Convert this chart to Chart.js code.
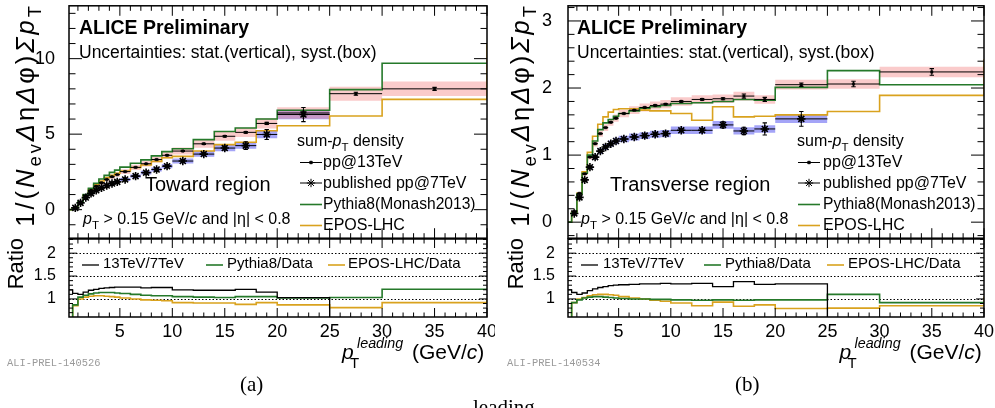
<!DOCTYPE html>
<html>
<head>
<meta charset="utf-8">
<script src="https://cdn.jsdelivr.net/npm/chart.js@4.4.1/dist/chart.umd.min.js"></script>
<style>
  html, body { margin: 0; padding: 0; background: #fff; }
  #page { position: relative; width: 995px; height: 408px; overflow: hidden; font-family: "Liberation Sans", Arial, sans-serif; color: #000; }
  canvas { position: absolute; z-index: 1; }
  .t { position: absolute; white-space: nowrap; line-height: 1; z-index: 2; }
  .sub { font-size: 72%; position: relative; top: 0.4em; }
  .rot { transform-origin: 0 0; transform: rotate(-90deg) translateX(-100%); }
  .ytitle { font-size: 25.5px; letter-spacing: 3px; }
  .mono { font-family: "Liberation Mono", "Courier New", monospace; color: #9a9a9a; font-size: 10.4px; }
  .serif { font-family: "Liberation Serif", "Times New Roman", serif; }
</style>
</head>
<body>
<div id="page">
  <!-- panel (a) -->
  <div class="t rot ytitle" style="left:13.4px;top:3px">1/(<i>N</i><span class="sub">ev</span><i>Δ</i>η<i>Δ</i>φ)<i>Σp</i><span class="sub">T</span></div>
  <div class="t rot" style="left:5px;top:238px;font-size:22px">Ratio</div>
  <div class="t" style="left:79px;top:17.5px;font-size:19.5px;font-weight:bold">ALICE Preliminary</div>
  <div class="t" style="left:79px;top:44.4px;font-size:17.5px">Uncertainties: stat.(vertical), syst.(box)</div>
  <div class="t" style="left:145px;top:174px;font-size:20px">Toward region</div>
  <div class="t" style="left:83px;top:211px;font-size:16px"><i>p</i><span class="sub">T</span> &gt; 0.15 GeV/<i>c</i> and |η| &lt; 0.8</div>
  <div class="t" style="left:297px;top:133px;font-size:16px">sum-<i>p</i><span class="sub">T</span> density</div>
  <div class="t" style="left:323px;top:154px;font-size:16px">pp@13TeV</div>
  <div class="t" style="left:323px;top:175px;font-size:16px">published pp@7TeV</div>
  <div class="t" style="left:323px;top:196px;font-size:15.6px">Pythia8(Monash2013)</div>
  <div class="t" style="left:323px;top:216.6px;font-size:16px">EPOS-LHC</div>
  <div class="t" style="left:103px;top:254.6px;font-size:15px">13TeV/7TeV</div>
  <div class="t" style="left:227px;top:254.6px;font-size:15px">Pythia8/Data</div>
  <div class="t" style="left:348px;top:254.6px;font-size:15px">EPOS-LHC/Data</div>
  <div class="t" style="left:342px;top:340.5px;font-size:21px"><i>p</i></div>
  <div class="t" style="left:357px;top:336.2px;font-size:14.3px"><i>leading</i></div>
  <div class="t" style="left:350px;top:354.7px;font-size:15px">T</div>
  <div class="t" style="left:412px;top:340.6px;font-size:21px">(GeV/<i>c</i>)</div>
  <div class="t mono" style="left:7px;top:358px">ALI-PREL-140526</div>
  <div class="t serif" style="left:240px;top:374px;font-size:21px">(a)</div>

  <!-- panel (b) -->
  <div class="t rot ytitle" style="left:508.4px;top:3px">1/(<i>N</i><span class="sub">ev</span><i>Δ</i>η<i>Δ</i>φ)<i>Σp</i><span class="sub">T</span></div>
  <div class="t rot" style="left:505px;top:238px;font-size:22px">Ratio</div>
  <div class="t" style="left:577px;top:17.5px;font-size:19.5px;font-weight:bold">ALICE Preliminary</div>
  <div class="t" style="left:577px;top:44.4px;font-size:17.5px">Uncertainties: stat.(vertical), syst.(box)</div>
  <div class="t" style="left:610px;top:174px;font-size:20px">Transverse region</div>
  <div class="t" style="left:581px;top:211px;font-size:16px"><i>p</i><span class="sub">T</span> &gt; 0.15 GeV/<i>c</i> and |η| &lt; 0.8</div>
  <div class="t" style="left:797px;top:133px;font-size:16px">sum-<i>p</i><span class="sub">T</span> density</div>
  <div class="t" style="left:823px;top:154px;font-size:16px">pp@13TeV</div>
  <div class="t" style="left:823px;top:175px;font-size:16px">published pp@7TeV</div>
  <div class="t" style="left:823px;top:196px;font-size:15.6px">Pythia8(Monash2013)</div>
  <div class="t" style="left:823px;top:216.6px;font-size:16px">EPOS-LHC</div>
  <div class="t" style="left:603px;top:254.6px;font-size:15px">13TeV/7TeV</div>
  <div class="t" style="left:725px;top:254.6px;font-size:15px">Pythia8/Data</div>
  <div class="t" style="left:848px;top:254.6px;font-size:15px">EPOS-LHC/Data</div>
  <div class="t" style="left:839.5px;top:340.5px;font-size:21px"><i>p</i></div>
  <div class="t" style="left:854.5px;top:336.2px;font-size:14.3px"><i>leading</i></div>
  <div class="t" style="left:847.5px;top:354.7px;font-size:15px">T</div>
  <div class="t" style="left:909.5px;top:340.6px;font-size:21px">(GeV/<i>c</i>)</div>
  <div class="t mono" style="left:507px;top:358px">ALI-PREL-140534</div>
  <div class="t serif" style="left:735px;top:374px;font-size:21px">(b)</div>

  <div class="t serif" style="left:473px;top:397.4px;font-size:21px">leading</div>
</div>

<script>
// bin edges of the leading-track pT (GeV/c)
const edges = [0.15, 0.5, 1, 1.5, 2, 2.5, 3, 3.5, 4, 4.5, 5, 6, 7, 8, 9, 10, 12, 14, 16, 18, 20, 25, 30, 40];
const xTickLabels = [5, 10, 15, 20, 25, 30, 35, 40];
const ratioTickLabels = [1, 1.5, 2];
const ratioRefLines = [1, 1.5, 2];

// ---- Toward region (a) ----
// data start at bin 1 (0.5-1 GeV/c)
const towardPp13 = [0.14, 0.5, 0.92, 1.27, 1.55, 1.78, 2.0, 2.18, 2.32, 2.52, 2.8, 3.04, 3.32, 3.6, 3.88, 4.36, 4.86, 5.12, 5.71, 6.4, 7.68, 8.0];
const towardStat13 = [0.01, 0.01, 0.01, 0.01, 0.01, 0.01, 0.01, 0.01, 0.01, 0.02, 0.02, 0.02, 0.02, 0.03, 0.03, 0.04, 0.05, 0.06, 0.07, 0.08, 0.1, 0.1];
const towardSys13 = 0.06;
const towardPp7 = [0.12, 0.45, 0.8, 1.08, 1.28, 1.45, 1.6, 1.73, 1.84, 2.0, 2.22, 2.45, 2.66, 2.88, 3.22, 3.68, 4.08, 4.24, 4.98, 6.3];
const towardStat7 = [0.02, 0.02, 0.02, 0.02, 0.03, 0.03, 0.03, 0.03, 0.04, 0.04, 0.05, 0.05, 0.06, 0.07, 0.07, 0.08, 0.13, 0.25, 0.33, 0.47];
const towardSys7 = 0.05;
// models start at bin 0 (0.15-0.5 GeV/c, empty)
const towardPythia = [0, 0.12, 0.52, 1.0, 1.41, 1.75, 2.03, 2.27, 2.47, 2.62, 2.82, 3.07, 3.3, 3.56, 3.84, 4.03, 4.64, 5.18, 5.41, 6.0, 6.58, 7.95, 9.7];
const towardEpos = [0, 0.12, 0.5, 0.96, 1.35, 1.65, 1.9, 2.12, 2.27, 2.4, 2.56, 2.79, 2.96, 3.2, 3.44, 3.53, 3.88, 4.31, 4.46, 5.23, 5.56, 6.2, 7.3];
const towardEposOverflow = 11.0;
const towardRatio13 = [1.2, 1.12, 1.1, 1.15, 1.19, 1.21, 1.23, 1.24, 1.25, 1.26, 1.26, 1.26, 1.24, 1.25, 1.25, 1.2, 1.19, 1.19, 1.21, 1.15, 1.03];
const towardRatioPythia = [0, 0.87, 1.04, 1.08, 1.11, 1.13, 1.14, 1.14, 1.14, 1.13, 1.12, 1.1, 1.08, 1.07, 1.07, 1.05, 1.04, 1.03, 1.05, 1.05, 1.02, 1.03, 1.21];
const towardRatioEpos = [0, 0.85, 1.0, 1.04, 1.06, 1.07, 1.07, 1.06, 1.05, 1.04, 1.02, 1.0, 0.98, 0.97, 0.96, 0.92, 0.91, 0.91, 0.88, 0.92, 0.87, 0.81, 0.92];
const towardRatioEposOverflow = 1.0;

// ---- Transverse region (b) ----
const transPp13 = [0.16, 0.43, 0.72, 0.97, 1.17, 1.32, 1.41, 1.49, 1.55, 1.62, 1.67, 1.71, 1.74, 1.76, 1.8, 1.83, 1.84, 1.88, 1.83, 2.05, 2.06, 2.24];
const transStat13 = [0.005, 0.005, 0.005, 0.005, 0.005, 0.005, 0.005, 0.006, 0.006, 0.006, 0.007, 0.008, 0.009, 0.01, 0.01, 0.012, 0.015, 0.03, 0.03, 0.025, 0.04, 0.05];
const transSys13 = 0.035;
const transPp7 = [0.13, 0.37, 0.63, 0.82, 0.97, 1.06, 1.12, 1.17, 1.21, 1.24, 1.27, 1.29, 1.31, 1.32, 1.37, 1.37, 1.45, 1.36, 1.39, 1.54];
const transStat7 = [0.01, 0.01, 0.01, 0.01, 0.01, 0.01, 0.01, 0.01, 0.01, 0.01, 0.012, 0.014, 0.016, 0.018, 0.02, 0.025, 0.045, 0.055, 0.09, 0.11];
const transSys7 = 0.04;
const transPythia = [0, 0.14, 0.42, 0.73, 1.0, 1.21, 1.38, 1.48, 1.53, 1.58, 1.62, 1.66, 1.7, 1.72, 1.74, 1.77, 1.78, 1.8, 1.83, 1.82, 2.01, 2.26, 2.05];
const transEpos = [0, 0.15, 0.43, 0.75, 1.04, 1.28, 1.46, 1.57, 1.64, 1.68, 1.69, 1.69, 1.67, 1.66, 1.66, 1.62, 1.52, 1.72, 1.57, 1.58, 1.6, 1.65, 1.89];
const transEposOverflow = 2.43;
const transRatio13 = [1.2, 1.14, 1.1, 1.13, 1.18, 1.22, 1.25, 1.27, 1.29, 1.3, 1.31, 1.32, 1.33, 1.33, 1.34, 1.33, 1.34, 1.27, 1.38, 1.32, 1.33];
const transRatioPythia = [0, 0.92, 0.98, 1.02, 1.04, 1.05, 1.05, 1.04, 1.03, 1.02, 1.01, 1.0, 1.0, 0.99, 0.99, 0.98, 0.97, 0.98, 0.97, 0.98, 0.98, 1.1, 0.92];
const transRatioEpos = [0, 0.92, 1.0, 1.03, 1.07, 1.09, 1.1, 1.1, 1.09, 1.08, 1.05, 1.02, 1.0, 0.97, 0.95, 0.91, 0.85, 0.93, 0.84, 0.87, 0.79, 0.8, 0.85];
const transRatioEposOverflow = 1.05;

const GREEN = '#25792a';
const GOLD = '#d9a21e';
const PINK = 'rgba(245,140,140,0.45)';
const BLUE = 'rgba(90,90,240,0.55)';

Chart.defaults.font.family = '"Liberation Sans", Arial, sans-serif';
Chart.defaults.color = '#000';

// ROOT style frame: box, inward ticks on all sides, dotted reference lines, legend samples
const rootFrame = {
    id: 'rootFrame',
    beforeDatasetsDraw(chart) {
        const o = chart.canvas.$root;
        const ctx = chart.ctx, a = chart.chartArea, y = chart.scales.y;
        (o.refLines || []).forEach((v) => {
            const py = Math.round(y.getPixelForValue(v)) + 0.5;
            ctx.save();
            ctx.strokeStyle = '#000';
            ctx.lineWidth = 1;
            ctx.setLineDash([1.5, 2]);
            ctx.beginPath();
            ctx.moveTo(a.left, py);
            ctx.lineTo(a.right, py);
            ctx.stroke();
            ctx.restore();
        });
    },
    afterDraw(chart) {
        const o = chart.canvas.$root;
        const ctx = chart.ctx, a = chart.chartArea, x = chart.scales.x, y = chart.scales.y;
        ctx.save();
        ctx.strokeStyle = '#000';
        ctx.lineWidth = 1;
        ctx.beginPath();
        for (let v = Math.ceil(x.min); v <= x.max + 1e-9; v += 1) {
            const len = v % 5 === 0 ? o.xTick : o.xTick / 2;
            const px = x.getPixelForValue(v);
            ctx.moveTo(px, a.bottom); ctx.lineTo(px, a.bottom - len);
            ctx.moveTo(px, a.top); ctx.lineTo(px, a.top + len);
        }
        const n0 = Math.ceil(y.min / o.yMinor - 1e-9), n1 = Math.floor(y.max / o.yMinor + 1e-9);
        for (let n = n0; n <= n1; n++) {
            const v = n * o.yMinor;
            const major = Math.abs(v / o.yStep - Math.round(v / o.yStep)) < 1e-6;
            const len = major ? o.yTick : o.yTick / 2;
            const py = y.getPixelForValue(v);
            ctx.moveTo(a.left, py); ctx.lineTo(a.left + len, py);
            ctx.moveTo(a.right, py); ctx.lineTo(a.right - len, py);
        }
        ctx.stroke();
        ctx.lineWidth = 1.5;
        ctx.strokeRect(a.left, a.top, a.right - a.left, a.bottom - a.top);

        // legend samples (page coordinates)
        (o.samples || []).forEach((s) => {
            const x1 = s.x1 - o.box.l, x2 = s.x2 - o.box.l, py = s.y - o.box.t;
            ctx.strokeStyle = s.color;
            ctx.fillStyle = s.color;
            ctx.lineWidth = s.lw;
            ctx.beginPath();
            ctx.moveTo(x1, py);
            ctx.lineTo(x2, py);
            ctx.stroke();
            if (s.marker) {
                Chart.helpers.drawPoint(ctx, s.marker, (x1 + x2) / 2, py);
            }
        });
        ctx.restore();
    }
};
Chart.register(rootFrame);

const page = document.getElementById('page');

function stepLine(vals, first, endY) {
    const pts = vals.map((v, i) => ({x: edges[first + i], y: v}));
    pts.push({x: edges[first + vals.length], y: endY === undefined ? vals[vals.length - 1] : endY});
    return pts;
}

function band(vals, sys, color) {
    const up = stepLine(vals.map((v) => v * (1 + sys)), 1);
    const lo = stepLine(vals.map((v) => v * (1 - sys)), 1);
    return [
        {data: up, stepped: true, fill: '+1', backgroundColor: color, borderColor: 'rgba(0,0,0,0)', borderWidth: 1, pointRadius: 0, order: 10},
        {data: lo, stepped: true, fill: false, borderColor: 'rgba(0,0,0,0)', borderWidth: 1, pointRadius: 0, order: 10}
    ];
}

function hist(vals, color, endY, width) {
    return {data: stepLine(vals, 0, endY), stepped: true, fill: false, borderColor: color,
        borderWidth: width || 1.6, pointRadius: 0, order: 5};
}

function errorBars(vals, stat, marker) {
    const hor = [], ver = [], caps = [], pts = [];
    vals.forEach((v, i) => {
        const lo = edges[i + 1], hi = edges[i + 2], c = (lo + hi) / 2;
        hor.push({x: lo, y: v}, {x: hi, y: v}, {x: hi, y: null});
        ver.push({x: c, y: v - stat[i]}, {x: c, y: v + stat[i]}, {x: c, y: null});
        caps.push({x: c, y: v - stat[i]}, {x: c, y: v + stat[i]});
        pts.push({x: c, y: v});
    });
    return [
        {data: hor, borderColor: '#000', borderWidth: 1, pointRadius: 0, fill: false, order: 2},
        {data: ver, borderColor: '#000', borderWidth: 1, pointRadius: 0, fill: false, order: 2},
        {data: caps, showLine: false, pointStyle: 'line', pointRadius: 2.2, pointBorderWidth: 1.1,
            pointBorderColor: '#000', order: 2},
        Object.assign({data: pts, showLine: false, order: 1, pointBorderColor: '#000', pointBackgroundColor: '#000'}, marker)
    ];
}

function makeChart(box, frame, o, datasets) {
    const canvas = document.createElement('canvas');
    canvas.width = box.w;
    canvas.height = box.h;
    canvas.style.left = box.l + 'px';
    canvas.style.top = box.t + 'px';
    canvas.style.width = box.w + 'px';
    canvas.style.height = box.h + 'px';
    page.appendChild(canvas);
    canvas.$root = Object.assign({box: box}, o);
    const xh = o.showX ? 24 : 0;
    return new Chart(canvas, {
        type: 'line',
        data: {datasets: datasets},
        options: {
            responsive: false,
            animation: false,
            devicePixelRatio: 1,
            events: [],
            layout: {padding: {left: 0, top: frame.t - box.t, right: box.l + box.w - frame.r,
                bottom: box.t + box.h - frame.b - xh}},
            plugins: {legend: {display: false}, tooltip: {enabled: false}},
            scales: {
                x: {
                    type: 'linear', min: 0.15, max: 40, bounds: 'data', display: o.showX,
                    grid: {display: false}, border: {display: false},
                    ticks: {font: {size: 18}, padding: -4, maxRotation: 0, autoSkip: false, color: '#000',
                        callback: (v) => String(v)},
                    afterBuildTicks: (s) => { s.ticks = xTickLabels.map((v) => ({value: v})); },
                    afterFit: (s) => { s.height = xh; s.paddingLeft = 0; s.paddingRight = 0; }
                },
                y: {
                    type: 'linear', min: o.yMin, max: o.yMax, bounds: 'data',
                    grid: {display: false}, border: {display: false},
                    ticks: {font: {size: o.yFont}, padding: o.yPad, color: '#000', callback: (v) => String(v)},
                    afterBuildTicks: (s) => { s.ticks = o.yLabels.map((v) => ({value: v})); },
                    afterFit: (s) => { s.width = frame.l - box.l; s.paddingTop = 0; s.paddingBottom = 0; }
                }
            }
        }
    });
}

const starMarker = {pointStyle: 'star', pointRadius: 4.2, pointBorderWidth: 1.6};
const dotMarker = {pointStyle: 'rect', pointRadius: 1.7, pointBorderWidth: 0.5};

function topPanel(box, frame, yr, d, legendX) {
    const ys = [162.5, 183, 204.5, 225.5];
    makeChart(box, frame, {
        showX: false, yMin: yr[0], yMax: yr[1], yLabels: yr[2], yStep: yr[3], yMinor: yr[4],
        yFont: 18, yPad: yr[5], xTick: 10, yTick: 13,
        samples: [
            {x1: legendX, x2: legendX + 22, y: ys[0], color: '#000', lw: 1, marker: {pointStyle: 'rect', radius: 1.7, borderWidth: 0.5}},
            {x1: legendX, x2: legendX + 22, y: ys[1], color: '#000', lw: 1, marker: {pointStyle: 'star', radius: 4.2, borderWidth: 1.6}},
            {x1: legendX, x2: legendX + 22, y: ys[2], color: GREEN, lw: 1.6},
            {x1: legendX, x2: legendX + 22, y: ys[3], color: GOLD, lw: 1.6}
        ]
    }, [].concat(
        band(d.pp13, d.sys13, PINK),
        band(d.pp7, d.sys7, BLUE),
        [hist(d.pythia, GREEN), hist(d.epos, GOLD, d.eposOver)],
        errorBars(d.pp13, d.stat13, dotMarker),
        errorBars(d.pp7, d.stat7, starMarker)
    ));
}

function ratioPanel(box, frame, d, legendXs) {
    makeChart(box, frame, {
        showX: true, yMin: 0.605, yMax: 2.31, yLabels: ratioTickLabels, yStep: 0.5, yMinor: 0.1,
        yFont: 16, yPad: 5, xTick: 9, yTick: 8, refLines: ratioRefLines,
        samples: [
            {x1: legendXs[0], x2: legendXs[0] + 17, y: 265, color: '#000', lw: 1.3},
            {x1: legendXs[1], x2: legendXs[1] + 17, y: 265, color: GREEN, lw: 1.6},
            {x1: legendXs[2], x2: legendXs[2] + 17, y: 265, color: GOLD, lw: 1.6}
        ]
    }, [
        hist(d.r13, '#000', 0, 1.3),
        hist(d.rPythia, GREEN),
        hist(d.rEpos, GOLD, d.rEposOver)
    ]);
}

topPanel({l: 0, t: 0, w: 495, h: 244}, {l: 69, r: 487, t: 3, b: 239}, [-1.89, 13.5, [0, 5, 10], 5, 1, 6], {
    pp13: towardPp13, stat13: towardStat13, sys13: towardSys13,
    pp7: towardPp7, stat7: towardStat7, sys7: towardSys7,
    pythia: towardPythia, epos: towardEpos, eposOver: towardEposOverflow
}, 300);
ratioPanel({l: 0, t: 232, w: 495, h: 120}, {l: 69, r: 487, t: 239, b: 317}, {
    r13: towardRatio13, rPythia: towardRatioPythia, rEpos: towardRatioEpos, rEposOver: towardRatioEposOverflow
}, [82, 206, 328]);

topPanel({l: 495, t: 0, w: 500, h: 244}, {l: 568, r: 984, t: 3, b: 239}, [-0.239, 3.226, [0, 1, 2, 3], 1, 0.2, 8], {
    pp13: transPp13, stat13: transStat13, sys13: transSys13,
    pp7: transPp7, stat7: transStat7, sys7: transSys7,
    pythia: transPythia, epos: transEpos, eposOver: transEposOverflow
}, 798);
ratioPanel({l: 495, t: 232, w: 500, h: 120}, {l: 568, r: 984, t: 239, b: 317}, {
    r13: transRatio13, rPythia: transRatioPythia, rEpos: transRatioEpos, rEposOver: transRatioEposOverflow
}, [581, 704, 827]);
</script>
</body>
</html>
